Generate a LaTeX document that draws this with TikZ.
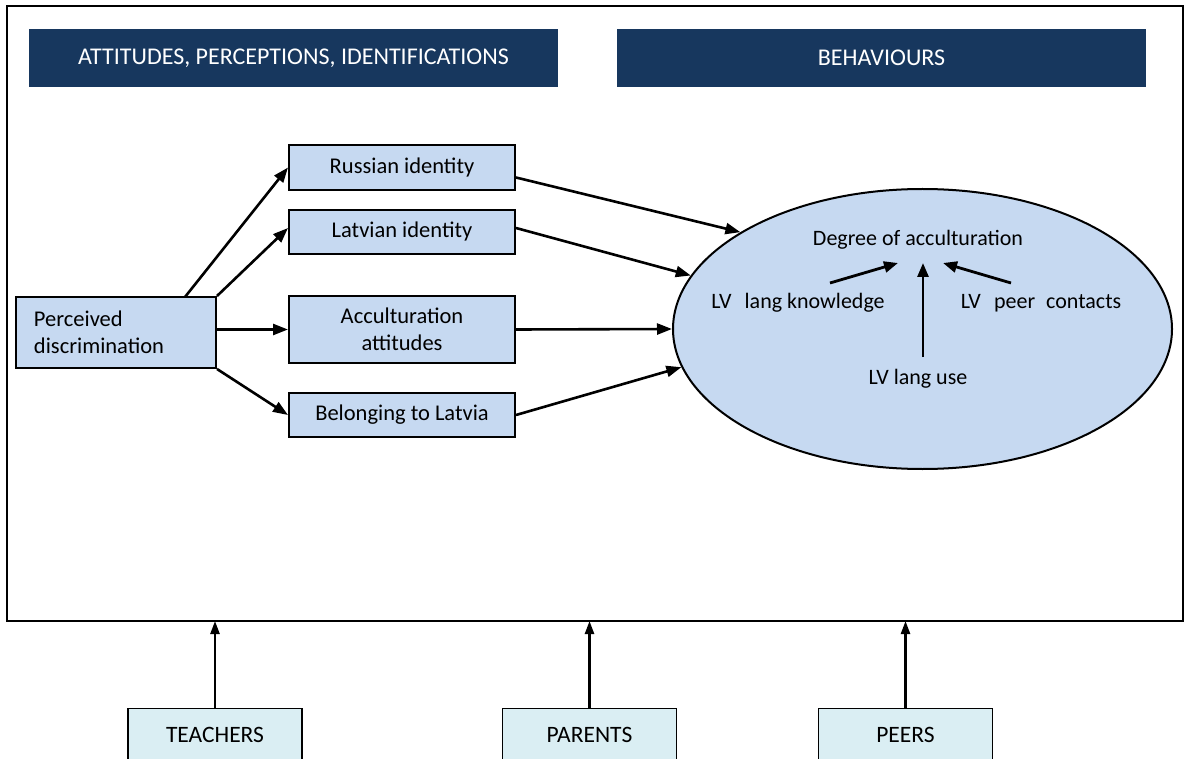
\documentclass[tikz,border=0pt]{standalone}
\usepackage{fontspec}
\setmainfont{Carlito}
\usetikzlibrary{arrows.meta,shapes.geometric}
\definecolor{navy}{HTML}{17375E}
\definecolor{boxblue}{HTML}{C6D9F1}
\definecolor{paleblue}{HTML}{DAEEF3}
\begin{document}
\begin{tikzpicture}[x=1pt,y=-1pt,
  header/.style={fill=navy, text=white, minimum width=529pt, minimum height=58pt,
    inner sep=0pt, font=\fontsize{24}{28}\selectfont},
  varbox/.style={draw=black, line width=2pt, fill=boxblue, minimum width=226pt,
    inner sep=0pt, font=\fontsize{22.5}{27}\selectfont},
  srcbox/.style={draw=black, line width=1.4pt, fill=paleblue, minimum width=174pt,
    minimum height=52pt, inner sep=0pt, anchor=north, font=\fontsize{23.5}{27}\selectfont},
  inlabel/.style={inner sep=0pt, font=\fontsize{22}{26}\selectfont},
  link/.style={line width=2.6pt, -{Triangle[length=15pt,width=11pt]}},
  inlink/.style={line width=2.8pt, -{Triangle[length=14pt,width=11pt]}},
  uplink/.style={line width=2.3pt, -{Triangle[length=13pt,width=9pt]}}]
\useasboundingbox (0,0) rectangle (1186,759);
\clip (0,0) rectangle (1186,759);

% outer frame of the model
\draw[line width=1.6pt] (7,6) rectangle (1183,621);

% column headings
\node[header] (h1) at (293.5,58) {ATTITUDES, PERCEPTIONS, IDENTIFICATIONS};
\node[header] (h2) at (881.5,58) {BEHAVIOURS};

% predictor and mediator boxes
\node[varbox, minimum width=200pt, minimum height=71pt, text width=164pt, align=left]
  (per) at (116,332.5) {Perceived\\discrimination};
\node[varbox, minimum height=45pt] (rus) at (402,167.5) {Russian identity};
\node[varbox, minimum height=44pt] (lat) at (402,232) {Latvian identity};
\node[varbox, minimum height=67pt, align=center] (acc) at (402,329.5) {Acculturation\\attitudes};
\node[varbox, minimum height=44pt] (bel) at (402,415) {Belonging to Latvia};

% outcome ellipse
\node[ellipse, draw=black, line width=2pt, fill=boxblue, minimum width=499pt,
  minimum height=280pt, inner sep=0pt] (ell) at (922.5,329) {};

\node[inlabel] (deg) at (918,240) {Degree of acculturation};
\node[inlabel] (know) at (798,303) {LV\hspace{0.6em}lang knowledge};
\node[inlabel] (peer) at (1041,303) {LV\hspace{0.6em}peer\hspace{0.5em}contacts};
\node[inlabel] (use) at (918,379) {LV lang use};

% arrow ends inside the ellipse
\coordinate (k0) at (830,283);
\coordinate (k1) at (898,263);
\coordinate (p0) at (1011,283);
\coordinate (p1) at (943,263);
\coordinate (u0) at (923,357);
\coordinate (u1) at (923,263);

\draw[inlink] (k0) -- (k1);
\draw[inlink] (p0) -- (p1);
\draw[inlink] (u0) -- (u1);

% paths from perceived discrimination
\draw[link] (185,297) -- (rus.west);
\draw[link] (per.north east) -- ([yshift=4pt]lat.west);
\draw[link] (per.east |- acc.west) -- (acc.west);
\draw[link] (per.south east) -- (bel.west);

% paths into the degree of acculturation
\draw[link] ([yshift=-10pt]rus.east) -- (ell.152.8);
\draw[link] ([yshift=4pt]lat.east) -- (ell.167.7);
\draw[link] (acc.east) -- (ell.west);
\draw[link] (bel.east) -- (ell.189);

% socialisation agents
\node[srcbox] (tea) at (215,708) {TEACHERS};
\node[srcbox] (par) at (589.5,708) {PARENTS};
\node[srcbox] (prs) at (905.5,708) {PEERS};

\coordinate (t1) at (215,621);
\coordinate (a1) at (589.5,621);
\coordinate (s1) at (905.5,621);
\draw[uplink] (tea.north) -- (t1);
\draw[uplink] (par.north) -- (a1);
\draw[uplink] (prs.north) -- (s1);
\end{tikzpicture}
\end{document}
